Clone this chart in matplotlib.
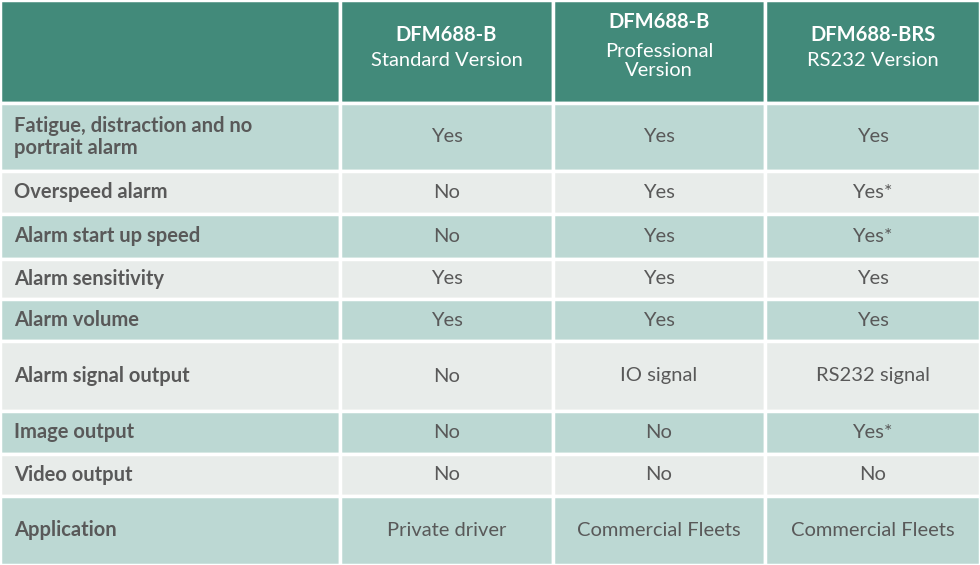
import matplotlib
matplotlib.use("Agg")
import matplotlib.pyplot as plt
from matplotlib.patches import Rectangle

headers_bold = ["DFM688-B", "DFM688-B", "DFM688-BRS"]
headers_sub = ["Standard Version", "Professional\nVersion", "RS232 Version"]
features = ["Fatigue, distraction and no\nportrait alarm", "Overspeed alarm", "Alarm start up speed",
            "Alarm sensitivity", "Alarm volume", "Alarm signal output", "Image output",
            "Video output", "Application"]
standard = ["Yes", "No", "No", "Yes", "Yes", "No", "No", "No", "Private driver"]
professional = ["Yes", "Yes", "Yes", "Yes", "Yes", "IO signal", "No", "No", "Commercial Fleets"]
rs232 = ["Yes", "Yes*", "Yes*", "Yes", "Yes", "RS232 signal", "Yes*", "No", "Commercial Fleets"]

col_edges = [0, 340, 553, 765, 980]
row_edges = [0, 103, 171, 214, 259, 299, 341, 411, 454, 496, 565]
HEAD = "#428a7a"; TEAL = "#bcd8d3"; GRAY = "#e8ecea"; TXT = "#595959"
FONT = "Lato"

fig = plt.figure(figsize=(9.8, 5.65), dpi=100)
ax = fig.add_axes([0, 0, 1, 1])
ax.set_xlim(0, 980); ax.set_ylim(565, 0); ax.axis("off")

cols = [standard, professional, rs232]
for r in range(len(row_edges) - 1):
    y0, y1 = row_edges[r], row_edges[r + 1]
    color = HEAD if r == 0 else (TEAL if r % 2 == 1 else GRAY)
    for c in range(4):
        x0, x1 = col_edges[c], col_edges[c + 1]
        ax.add_patch(Rectangle((x0, y0), x1 - x0, y1 - y0, facecolor=color,
                               edgecolor="white", linewidth=2.5))
        cy = (y0 + y1) / 2
        cx = (x0 + x1) / 2
        if r == 0:
            if c > 0:
                two = "\n" in headers_sub[c - 1]
                ax.text(cx, 22 if two else 35, headers_bold[c - 1], ha="center", va="center",
                        color="white", fontsize=14.5, fontweight="bold", family=FONT)
                ax.text(cx, 61 if two else 61, headers_sub[c - 1], ha="center",
                        va="center", color="white", fontsize=14.5, family=FONT, linespacing=1.2)
        else:
            if c == 0:
                ax.text(14, cy, features[r - 1], ha="left", va="center", color=TXT,
                        fontsize=14.5, fontweight="bold", family=FONT, linespacing=1.15)
            else:
                ax.text(cx, cy, cols[c - 1][r - 1], ha="center", va="center", color=TXT,
                        fontsize=14.5, family=FONT)

fig.savefig("out.png", dpi=100)
